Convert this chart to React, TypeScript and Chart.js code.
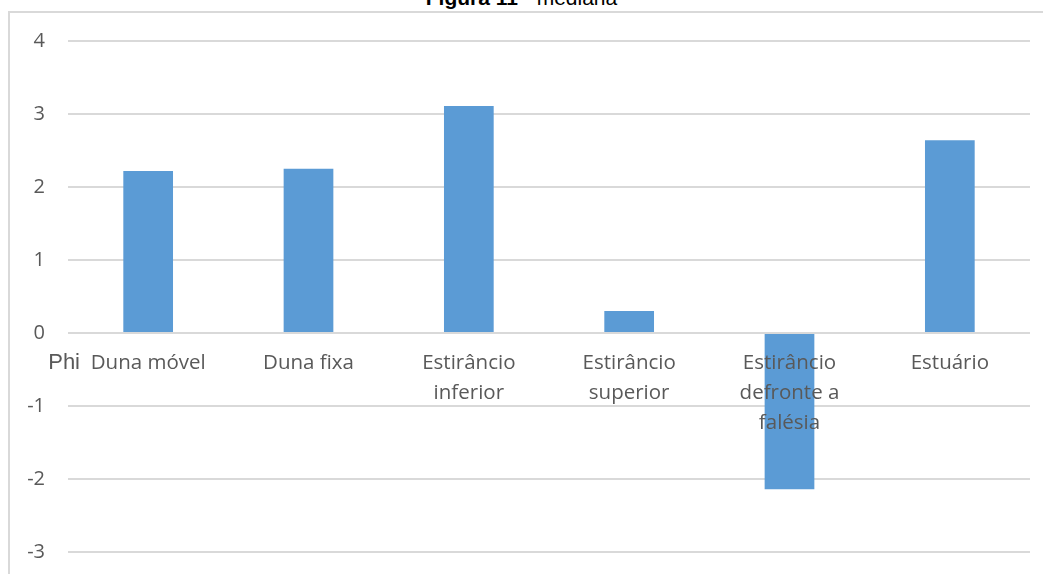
import React, { useEffect, useRef } from "react";
import { Chart, registerables } from "chart.js";

Chart.register(...registerables);

const categories: string[][] = [
  ["Duna móvel"],
  ["Duna fixa"],
  ["Estirâncio", "inferior"],
  ["Estirâncio", "superior"],
  ["Estirâncio", "defronte a", "falésia"],
  ["Estuário"],
];
const medianValues = [2.22, 2.25, 3.11, 0.3, -2.14, 2.64];
const yTickValues = [-3, -2, -1, 0, 1, 2, 3, 4];
const axisTitle = "Phi";
const chartTitleBold = "Figura 11";
const chartTitleRest = " - mediana";

const TEXT_COLOR = "#595959";
const GRID_COLOR = "#d9d9d9";
const BAR_COLOR = "#5b9bd5";
const FONT_FAMILY = "'Open Sans', sans-serif";

const categoryLabelsPlugin = {
  id: "categoryLabels",
  afterDatasetsDraw(chart: any) {
    const { ctx, scales, chartArea } = chart;
    const xs = scales.x;
    const ys = scales.y;
    const zeroY = ys.getPixelForValue(0);
    ctx.save();
    ctx.fillStyle = TEXT_COLOR;
    ctx.textBaseline = "middle";
    ctx.font = `20.5px ${FONT_FAMILY}`;
    ctx.textAlign = "center";
    categories.forEach((lines, i) => {
      const cx = xs.getPixelForValue(i);
      lines.forEach((line, j) => {
        ctx.fillText(line, cx, zeroY + 30 + j * 30);
      });
    });
    ctx.font = "22px 'Liberation Sans', Arial, sans-serif";
    ctx.textAlign = "right";
    ctx.fillText(axisTitle, chartArea.left + 12, zeroY + 30);
    ctx.restore();
  },
};

export default function App() {
  const canvasRef = useRef<HTMLCanvasElement | null>(null);

  useEffect(() => {
    if (!canvasRef.current) return;
    const chart = new Chart(canvasRef.current, {
      type: "bar",
      data: {
        labels: categories.map((c) => c.join(" ")),
        datasets: [
          {
            label: "mediana",
            data: medianValues,
            backgroundColor: BAR_COLOR,
            borderWidth: 0,
            categoryPercentage: 1,
            barPercentage: 0.31,
          },
        ],
      },
      options: {
        animation: false,
        responsive: false,
        maintainAspectRatio: false,
        layout: { padding: { left: 8, top: 41, right: 13, bottom: 22 } },
        plugins: {
          legend: { display: false },
          tooltip: { enabled: false },
          title: { display: false },
        },
        scales: {
          x: { display: false },
          y: {
            min: yTickValues[0],
            max: yTickValues[yTickValues.length - 1],
            afterBuildTicks: (scale: any) => {
              scale.ticks = yTickValues.map((v) => ({ value: v }));
            },
            afterFit: (scale: any) => {
              scale.width = 60;
              scale.paddingTop = 0;
              scale.paddingBottom = 0;
            },
            ticks: {
              color: TEXT_COLOR,
              font: { family: FONT_FAMILY, size: 20 },
              padding: 23,
            },
            grid: {
              color: GRID_COLOR,
              lineWidth: 2,
              drawTicks: false,
            },
            border: { display: false },
          },
        },
      },
      plugins: [categoryLabelsPlugin],
    });
    return () => chart.destroy();
  }, []);

  return (
    <div
      style={{
        position: "fixed",
        left: 0,
        top: 0,
        width: 1043,
        height: 574,
        overflow: "hidden",
        background: "#ffffff",
      }}
    >
      <div
        style={{
          position: "absolute",
          left: 8,
          top: 11,
          width: 1200,
          height: 700,
          borderLeft: `2px solid ${GRID_COLOR}`,
          borderTop: `2px solid ${GRID_COLOR}`,
        }}
      />
      <div
        style={{
          position: "absolute",
          left: 0,
          width: 1043,
          top: -14,
          textAlign: "center",
          fontFamily: "'Liberation Sans', Arial, sans-serif",
          fontSize: 21,
          lineHeight: "24px",
          color: "#000000",
          whiteSpace: "pre",
        }}
      >
        <span style={{ fontWeight: "bold" }}>{chartTitleBold}</span>
        <span>{chartTitleRest}</span>
      </div>
      <canvas
        ref={canvasRef}
        width={1043}
        height={574}
        style={{ position: "absolute", left: 0, top: 0, width: 1043, height: 574 }}
      />
    </div>
  );
}
